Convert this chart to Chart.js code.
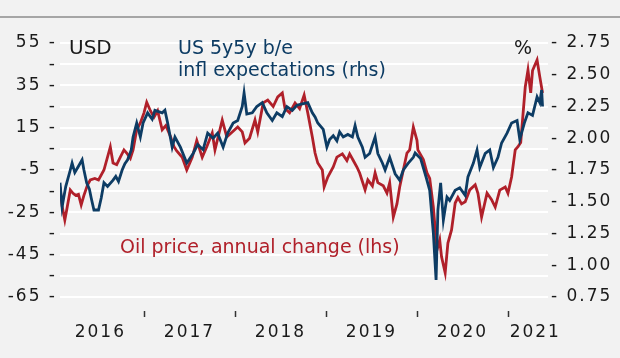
<!DOCTYPE html>
<html>
<head>
<meta charset="utf-8">
<script src="https://cdn.jsdelivr.net/npm/chart.js@4"></script>
<style>
  html, body { margin: 0; padding: 0; background: #f2f2f2; }
</style>
</head>
<body>
<canvas id="chart" width="620" height="358"></canvas>
<script>
// oil price, annual change (USD, lhs)
const oilDates = [2016.077, 2016.10, 2016.13, 2016.15, 2016.19, 2016.22, 2016.25, 2016.28, 2016.31, 2016.34, 2016.38, 2016.41, 2016.46, 2016.50, 2016.56, 2016.63, 2016.66, 2016.70, 2016.74, 2016.78, 2016.81, 2016.85, 2016.88, 2016.92, 2016.96,
  2017.00, 2017.03, 2017.07, 2017.11, 2017.15, 2017.20, 2017.24, 2017.29, 2017.33, 2017.36, 2017.42, 2017.47, 2017.53, 2017.58, 2017.64, 2017.69, 2017.75, 2017.78, 2017.86, 2017.91, 2017.97,
  2018.03, 2018.08, 2018.11, 2018.16, 2018.22, 2018.25, 2018.31, 2018.36, 2018.42, 2018.47, 2018.52, 2018.55, 2018.60, 2018.66, 2018.71, 2018.76, 2018.80, 2018.85, 2018.88, 2018.91, 2018.96, 2018.98,
  2019.02, 2019.08, 2019.12, 2019.18, 2019.23, 2019.26, 2019.30, 2019.34, 2019.37, 2019.43, 2019.46, 2019.51, 2019.54, 2019.57, 2019.63, 2019.67, 2019.70, 2019.74, 2019.78, 2019.81, 2019.85, 2019.89, 2019.92, 2019.96,
  2020.00, 2020.01, 2020.07, 2020.11, 2020.14, 2020.18, 2020.22, 2020.25, 2020.27, 2020.31, 2020.34, 2020.38, 2020.42, 2020.45, 2020.49, 2020.53, 2020.58, 2020.64, 2020.67, 2020.71, 2020.77, 2020.82, 2020.86, 2020.91, 2020.97,
  2021.00, 2021.04, 2021.08, 2021.11, 2021.14, 2021.19, 2021.22, 2021.25, 2021.27, 2021.32, 2021.35, 2021.38];
const oilChange = [-13, -22, -28.6, -24, -14.4, -16, -17, -16.5, -21.5, -17, -12, -9.7, -9, -9.7, -5, 5.9, -1.7, -2.5, 1.1, 4.5, 3, 0.5, 4.5, 14, 17.2,
  22, 27, 23, 20, 23, 14, 16, 11, 6, 4, 1, -5, 1, 9, 1, 6, 12.5, 4.5, 18.6, 10.6, 13,
  15.3, 13, 7.8, 10, 18.6, 13, 26.7, 28, 25, 29.5, 31.4, 24, 22, 26.7, 24, 30.4, 22, 10.6, 3, -1.7, -5, -13,
  -8.3, -3.6, 1.1, 2.6, -0.5, 2.6, -0.5, -3.6, -6.4, -14.4, -9.7, -12.5, -6.4, -11, -12.5, -15.9, -11, -27.2, -21, -13, -5, 3, 4.5, 15.3,
  9, 4.5, 0, -6.4, -9, -22.5, -42.8, -38, -46, -53.6, -39.5, -33.3, -20.6, -18, -21, -20, -14.4, -12, -16, -27.2, -15.9, -19, -22.5, -14.5, -13,
  -16, -8.3, 4.5, 6, 8, 34.2, 42.2, 31.4, 42, 47, 39, 31.4];

// US 5y5y breakeven inflation expectations (%, rhs)
const inflDates = [2016.077, 2016.10, 2016.14, 2016.19, 2016.21, 2016.24, 2016.28, 2016.32, 2016.34, 2016.37, 2016.40, 2016.42, 2016.45, 2016.50, 2016.53, 2016.56, 2016.60, 2016.66, 2016.69, 2016.72, 2016.76, 2016.79, 2016.82, 2016.86, 2016.88, 2016.92, 2016.96, 2016.99,
  2017.04, 2017.09, 2017.12, 2017.20, 2017.23, 2017.26, 2017.31, 2017.34, 2017.40, 2017.47, 2017.54, 2017.59, 2017.65, 2017.70, 2017.76, 2017.81, 2017.87, 2017.92, 2017.98,
  2018.03, 2018.08, 2018.10, 2018.13, 2018.19, 2018.24, 2018.30, 2018.35, 2018.41, 2018.46, 2018.52, 2018.57, 2018.63, 2018.68, 2018.74, 2018.80, 2018.85, 2018.88, 2018.91, 2018.97,
  2019.01, 2019.04, 2019.08, 2019.12, 2019.15, 2019.19, 2019.24, 2019.29, 2019.32, 2019.35, 2019.40, 2019.43, 2019.48, 2019.54, 2019.57, 2019.62, 2019.65, 2019.70, 2019.76, 2019.81, 2019.85, 2019.90, 2019.96, 2019.98,
  2020.04, 2020.10, 2020.14, 2020.18, 2020.21, 2020.23, 2020.26, 2020.29, 2020.33, 2020.36, 2020.42, 2020.47, 2020.53, 2020.56, 2020.62, 2020.66, 2020.69, 2020.75, 2020.80, 2020.84, 2020.89, 2020.93, 2020.99,
  2021.04, 2021.10, 2021.13, 2021.18, 2021.22, 2021.27, 2021.32, 2021.35, 2021.37, 2021.38];
const inflExp = [1.65, 1.46, 1.62, 1.75, 1.805, 1.73, 1.78, 1.83, 1.75, 1.65, 1.60, 1.53, 1.435, 1.435, 1.53, 1.65, 1.62, 1.67, 1.70, 1.66, 1.75, 1.80, 1.83, 1.907, 2.01, 2.12, 2.01, 2.12,
  2.20, 2.15, 2.22, 2.20, 2.22, 2.12, 1.93, 2.01, 1.93, 1.805, 1.88, 1.95, 1.91, 2.04, 2.00, 2.04, 1.93, 2.04, 2.12,
  2.14, 2.25, 2.356, 2.19, 2.20, 2.25, 2.28, 2.20, 2.14, 2.20, 2.17, 2.25, 2.22, 2.26, 2.27, 2.28, 2.20, 2.167, 2.12, 2.07,
  1.93, 1.99, 2.02, 1.98, 2.05, 2.01, 2.03, 2.01, 2.10, 2.01, 1.93, 1.85, 1.88, 2.01, 1.88, 1.805, 1.75, 1.85, 1.72, 1.67, 1.75, 1.80, 1.85, 1.884,
  1.84, 1.695, 1.59, 1.254, 0.884, 1.435, 1.648, 1.356, 1.537, 1.51, 1.59, 1.61, 1.55, 1.695, 1.805, 1.907, 1.77, 1.88, 1.907, 1.77, 1.85, 1.963, 2.04,
  2.12, 2.14, 1.99, 2.12, 2.20, 2.18, 2.325, 2.28, 2.38, 2.25];

const yearLabels = ['2016', '2017', '2018', '2019', '2020', '2021'];
const yearLabelPos = [2016.52, 2017.5, 2018.5, 2019.5, 2020.5, 2021.3];
const yearBounds = [2017, 2018, 2019, 2020, 2021];

const BLUE = '#0d3c64';
const RED = '#b0202a';
const INK = '#1a1a1a';
const tickFont = { family: '"DejaVu Sans"', size: 17 };

const decor = {
    id: 'decor',
    beforeDraw(chart) {
        const ctx = chart.ctx;
        ctx.save();
        ctx.strokeStyle = '#8c8c8c';
        ctx.lineWidth = 1.5;
        ctx.beginPath();
        ctx.moveTo(0, 17);
        ctx.lineTo(620, 17);
        ctx.stroke();
        ctx.restore();
        // wide look of the original font
        ctx.letterSpacing = '2px';
    },
    afterDraw(chart) {
        const ctx = chart.ctx;
        const x = chart.scales.x;
        ctx.save();
        ctx.letterSpacing = '0px';
        ctx.strokeStyle = '#333';
        ctx.lineWidth = 1.5;
        yearBounds.forEach(yr => {
            const px = Math.round(x.getPixelForValue(yr)) + 0.5;
            ctx.beginPath();
            ctx.moveTo(px, 311);
            ctx.lineTo(px, 317);
            ctx.stroke();
        });
        ctx.textAlign = 'left';
        ctx.textBaseline = 'alphabetic';
        ctx.fillStyle = INK;
        ctx.font = '20px "DejaVu Sans"';
        ctx.fillText('USD', 69, 54);
        ctx.font = '19px "DejaVu Sans"';
        ctx.fillText('%', 514, 54);
        ctx.fillStyle = BLUE;
        ctx.fillText('US 5y5y b/e', 178, 54);
        ctx.fillText('infl expectations (rhs)', 178, 76);
        ctx.fillStyle = RED;
        ctx.fillText('Oil price, annual change (lhs)', 120, 253);
        ctx.restore();
    }
};

new Chart(document.getElementById('chart').getContext('2d'), {
    type: 'line',
    data: {
        datasets: [{
            label: 'US 5y5y b/e infl expectations (rhs)',
            data: inflDates.map((d, i) => ({ x: d, y: inflExp[i] })),
            yAxisID: 'y1',
            borderColor: BLUE,
            borderWidth: 2.8,
            pointRadius: 0,
            tension: 0
        }, {
            label: 'Oil price, annual change (lhs)',
            data: oilDates.map((d, i) => ({ x: d, y: oilChange[i] })),
            yAxisID: 'y',
            borderColor: RED,
            borderWidth: 2.8,
            pointRadius: 0,
            tension: 0
        }]
    },
    options: {
        responsive: false,
        animation: false,
        layout: { padding: { top: 43, left: 0, right: 0, bottom: 0 } },
        plugins: { legend: { display: false }, tooltip: { enabled: false } },
        scales: {
            x: {
                type: 'linear',
                min: 2016.077,
                max: 2021.44,
                grid: { display: false, drawTicks: false },
                border: { display: false },
                afterBuildTicks: s => { s.ticks = yearLabelPos.map(v => ({ value: v })); },
                afterFit: s => { s.height = 61; },
                ticks: {
                    autoSkip: false,
                    maxRotation: 0,
                    padding: 25,
                    font: tickFont,
                    color: INK,
                    callback: (v, i) => yearLabels[i]
                }
            },
            y: {
                position: 'left',
                min: -65,
                max: 55,
                grid: { color: '#ffffff', lineWidth: 2, drawTicks: false },
                border: { display: false },
                afterFit: s => { s.width = 60; },
                ticks: {
                    autoSkip: false,
                    stepSize: 10,
                    padding: 3,
                    font: tickFont,
                    color: INK,
                    callback: v => ((v + 65) % 20 === 0 ? v + ' -' : '-')
                }
            },
            y1: {
                position: 'right',
                min: 0.75,
                max: 2.75,
                grid: { display: false, drawTicks: false },
                border: { display: false },
                afterFit: s => { s.width = 72; },
                ticks: {
                    autoSkip: false,
                    stepSize: 0.25,
                    padding: 3,
                    font: tickFont,
                    color: INK,
                    callback: v => '- ' + v.toFixed(2)
                }
            }
        }
    },
    plugins: [decor]
});
</script>
</body>
</html>
